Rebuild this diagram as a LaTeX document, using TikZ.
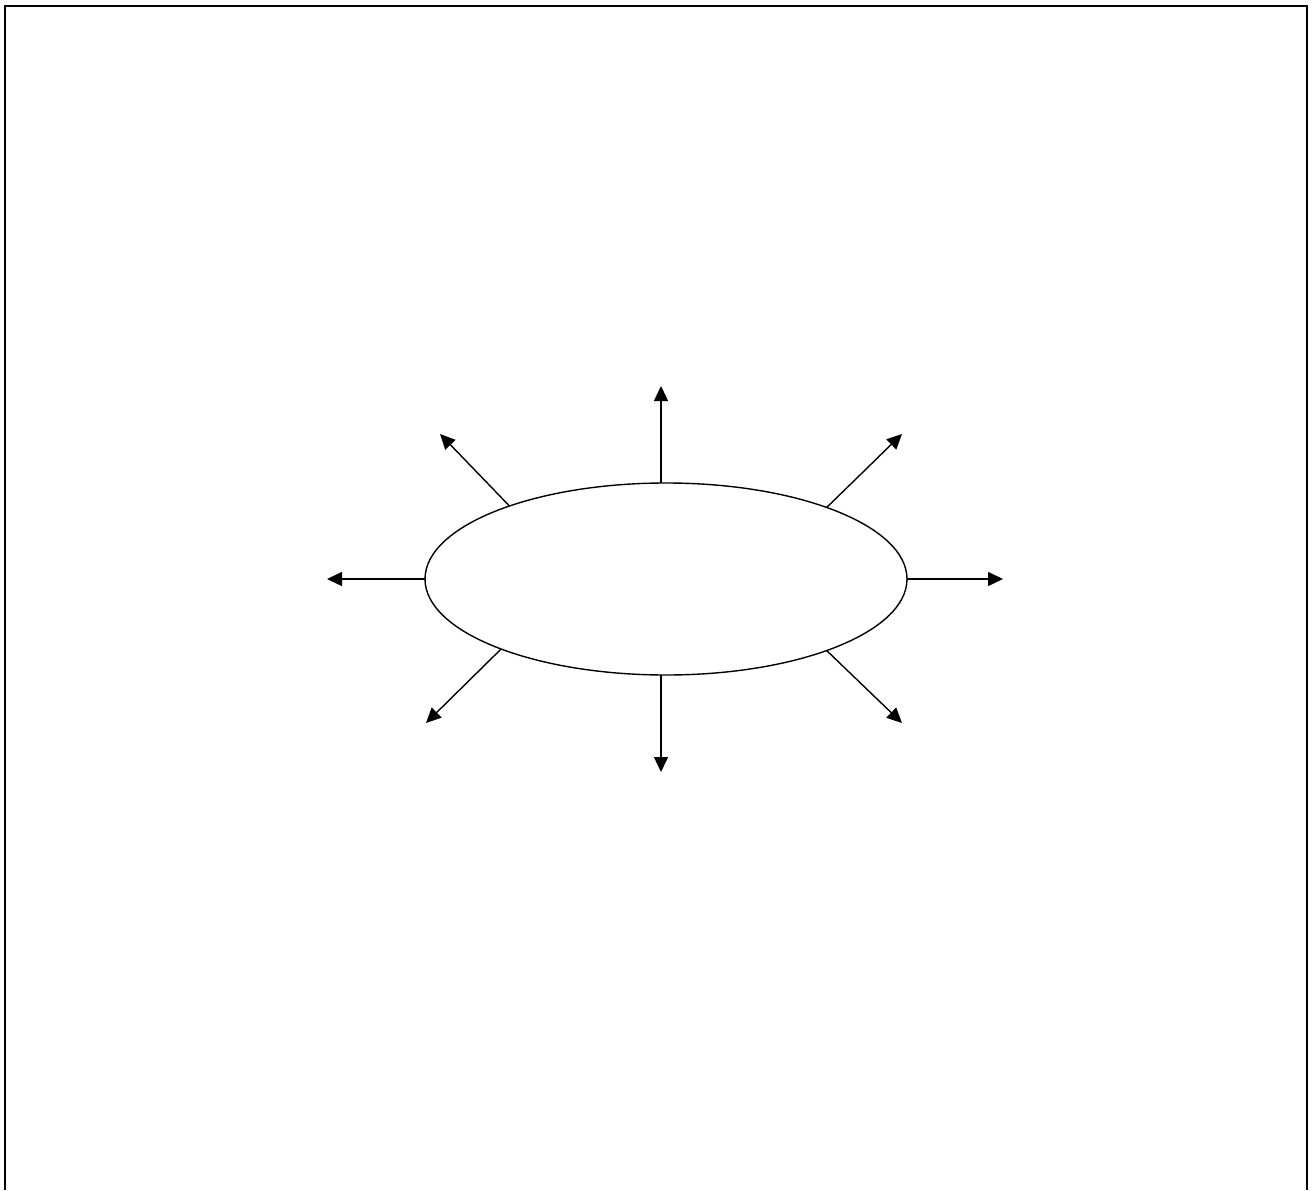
\documentclass[tikz,border=0pt]{standalone}
\usetikzlibrary{arrows.meta,shapes.geometric}
\begin{document}
\begin{tikzpicture}[x=1pt, y=-1pt,
  ray/.style={-{Triangle[length=15pt,width=14pt]}, line width=1.4pt}]
  \useasboundingbox (0,0) rectangle (1313,1190);
  % open frame
  \draw[line width=2pt] (5,1190) -- (5,6) -- (1307,6) -- (1307,1190);
  \node[draw, ellipse, line width=1.4pt, inner sep=0pt, outer sep=0pt,
        minimum width=482pt, minimum height=192pt] (blob) at (666,579) {};
  \coordinate (tipN)  at (661,386);
  \coordinate (tipS)  at (661,772);
  \coordinate (tipW)  at (327,579);
  \coordinate (tipE)  at (1003,579);
  \coordinate (tipNW) at (440,434);
  \coordinate (tipNE) at (902,434);
  \coordinate (tipSW) at (426,723);
  \coordinate (tipSE) at (902,723);
  \draw[ray] (blob.north -| tipN) -- (tipN);
  \draw[ray] (blob.south -| tipS) -- (tipS);
  \draw[ray] (blob.west) -- (tipW);
  \draw[ray] (blob.east) -- (tipE);
  \draw[ray] (blob.155) -- (tipNW);
  \draw[ray] (blob.24) -- (tipNE);
  \draw[ray] (blob.203) -- (tipSW);
  \draw[ray] (blob.-24) -- (tipSE);
\end{tikzpicture}
\end{document}
